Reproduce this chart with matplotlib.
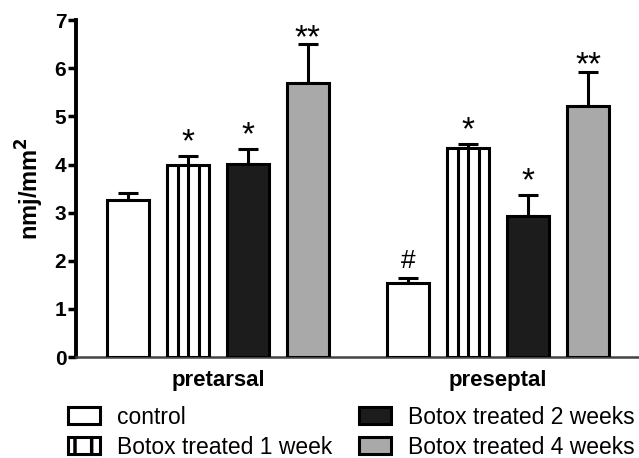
import numpy as np
import matplotlib
matplotlib.use("Agg")
import matplotlib.pyplot as plt
from matplotlib.patches import Patch

plt.rcParams['font.family'] = ['Liberation Sans', 'DejaVu Sans']
plt.rcParams['hatch.linewidth'] = 2.5

groups = ["pretarsal", "preseptal"]
series = ["control", "Botox treated 1 week", "Botox treated 2 weeks", "Botox treated 4 weeks"]
means = {
    "control": [3.26, 1.53],
    "Botox treated 1 week": [3.99, 4.35],
    "Botox treated 2 weeks": [4.02, 2.93],
    "Botox treated 4 weeks": [5.69, 5.22],
}
sems = {
    "control": [0.14, 0.11],
    "Botox treated 1 week": [0.19, 0.08],
    "Botox treated 2 weeks": [0.30, 0.44],
    "Botox treated 4 weeks": [0.81, 0.71],
}
marks = {
    "control": ["", "#"],
    "Botox treated 1 week": ["*", "*"],
    "Botox treated 2 weeks": ["*", "*"],
    "Botox treated 4 weeks": ["**", "**"],
}
fills = {
    "control": "white",
    "Botox treated 1 week": "white",
    "Botox treated 2 weeks": "#1c1c1c",
    "Botox treated 4 weeks": "#a9a9a9",
}

fig = plt.figure(figsize=(6.39, 4.58), dpi=100)
ax = fig.add_axes([0.119, 0.2205, 0.881, 0.7355])

gap = 4.67
width = 0.7
lw = 2.2
for i, s in enumerate(series):
    x = np.array([i, i + gap])
    h = np.array(means[s])
    e = np.array(sems[s])
    ax.bar(x, h, width=width, color=fills[s], edgecolor="black", linewidth=lw, zorder=3)
    ax.errorbar(x, h, yerr=[np.zeros_like(e), e], fmt="none", ecolor="black",
                elinewidth=lw, capsize=7.5, capthick=lw, zorder=2)
    if s == "Botox treated 1 week":
        for xi, hi in zip(x, h):
            for k in (1, 2, 3):
                ax.vlines(xi - width / 2 + width * k / 4, 0, hi, color="black", linewidth=lw, zorder=4)
    for xi, hi, ei, m in zip(x, h, e, marks[s]):
        if m == "#":
            ax.text(xi, hi + ei + 0.1, m, ha="center", va="bottom", fontsize=19)
        elif m == "**":
            ax.text(xi, hi + ei - 0.2, m, ha="center", va="bottom", fontsize=24)
        elif m:
            ax.text(xi, hi + ei - 0.05, m, ha="center", va="bottom", fontsize=24)

ax.set_xlim(-0.867, 8.52)
ax.set_ylim(0, 7)
ax.set_yticks(range(0, 8))
ax.set_xticks([1.5, 1.5 + gap])
ax.set_xticklabels(groups, fontsize=16, fontweight="bold")
ax.tick_params(axis="x", length=0, pad=9)
ax.tick_params(axis="y", direction="out", length=6, width=2.5, labelsize=15, pad=1)
for lab in ax.get_yticklabels():
    lab.set_fontweight("bold")
ax.set_ylabel("nmj/mm$^\\mathbf{2}$", fontsize=17, fontweight="bold", labelpad=6)
for sp in ("top", "right"):
    ax.spines[sp].set_visible(False)
ax.spines["left"].set_linewidth(2.8)
ax.spines["bottom"].set_linewidth(1.8)
ax.spines["bottom"].set_color("#444444")

handles = [Patch(facecolor=fills[s], edgecolor="black", linewidth=lw,
                 hatch="|" if s == "Botox treated 1 week" else None) for s in series]
fig.legend(handles, series, ncol=2, loc="upper left", bbox_to_anchor=(0.106, 0.114),
           frameon=False, fontsize=16.5, handlelength=1.4, handleheight=0.78,
           handletextpad=0.76, columnspacing=1.15, labelspacing=0.3, borderpad=0,
           borderaxespad=0)

fig.savefig("out.png", dpi=100)
